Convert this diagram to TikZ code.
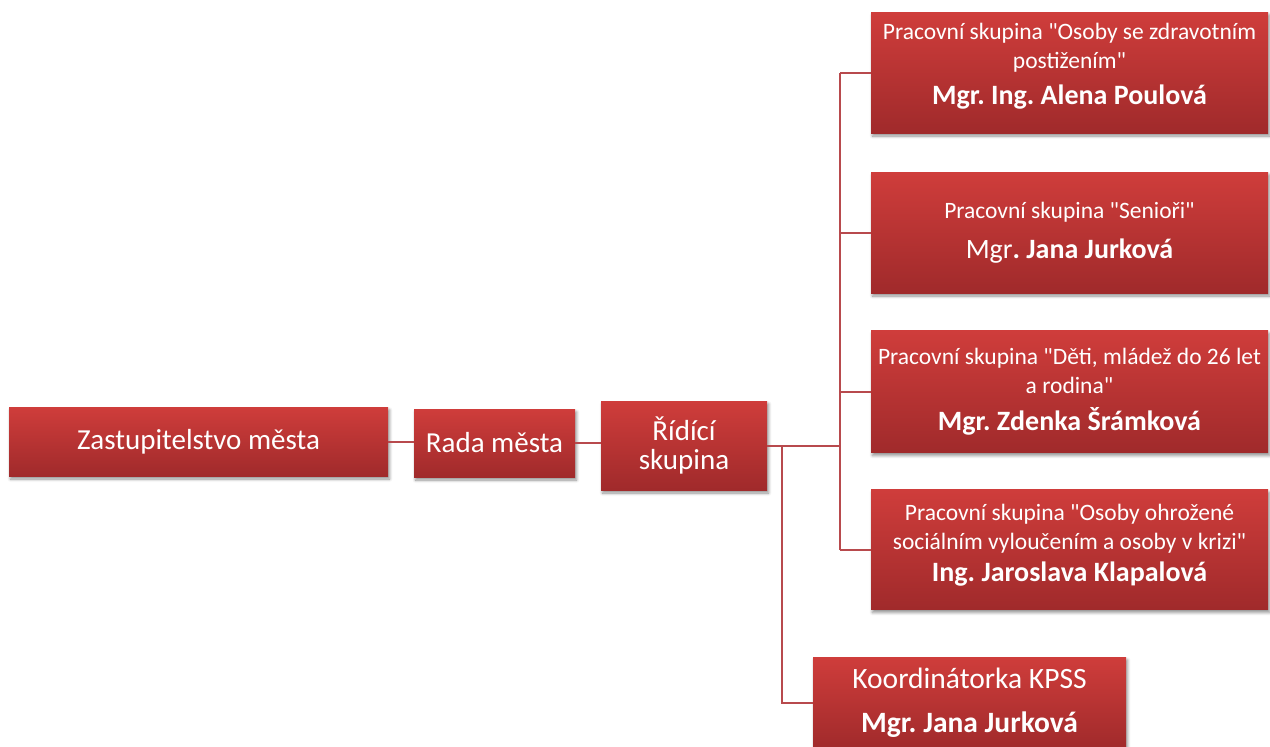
\documentclass[tikz,border=0pt]{standalone}
\usepackage{fontspec}
\setmainfont{Carlito}[Ligatures=TeXOff]
\usetikzlibrary{shadows.blur}
\frenchspacing
\definecolor{boxtop}{HTML}{CF3D3B}
\definecolor{boxbot}{HTML}{A02A2B}
\definecolor{linec}{HTML}{B84A4D}
\tikzset{
  orgbox/.style={rectangle, top color=boxtop, bottom color=boxbot, draw=none,
    text=white, align=center, inner sep=0pt,
    blur shadow={shadow xshift=1.5pt, shadow yshift=-3pt, shadow blur steps=6, shadow blur radius=3pt, shadow opacity=45}},
  bigtxt/.style={font=\fontsize{29}{29}\selectfont},
  smalltxt/.style={font=\fontsize{23.5}{29}\selectfont},
  conn/.style={draw=linec, line width=2pt},
}
\newcommand{\nm}[1]{{\fontsize{28}{30}\selectfont\bfseries #1}}
\newcommand{\qt}{\char34\relax}
\newcommand{\xdepth}[1]{\rule[-#1]{0pt}{0pt}}
\begin{document}
\begin{tikzpicture}[x=1pt,y=-1pt]
\useasboundingbox (0,0) rectangle (1270,747);
\node[orgbox, bigtxt, minimum width=379pt, minimum height=69pt] (z) at (198.5,441.5) {Zastupitelstvo města};
\node[orgbox, bigtxt, minimum width=161pt, minimum height=68pt] (rada) at (494.5,443) {Rada města};
\node[orgbox, bigtxt, minimum width=166pt, minimum height=89pt] (rid) at (684,445.5) {Řídící\\skupina};
\node[orgbox, smalltxt, minimum width=397pt, minimum height=121pt] (p1) at (1069.5,72.5)
  {Pracovní skupina \qt Osoby se zdravotním\\postižením\qt\\[7pt]\nm{Mgr. Ing. Alena Poulová\xdepth{18pt}}};
\node[orgbox, smalltxt, minimum width=397pt, minimum height=121pt] (p2) at (1069.5,232.5)
  {Pracovní skupina \qt Senioři\qt\\[11pt]{\fontsize{28}{30}\selectfont Mgr\bfseries. Jana Jurková}};
\node[orgbox, smalltxt, minimum width=397pt, minimum height=122pt] (p3) at (1069.5,391.5)
  {Pracovní skupina \qt Děti, mládež do 26 let\\a rodina\qt\\[8pt]\nm{Mgr. Zdenka Šrámková}};
\node[orgbox, smalltxt, minimum width=397pt, minimum height=120pt] (p4) at (1069.5,549.5)
  {Pracovní skupina \qt Osoby ohrožené\\sociálním vyloučením a osoby v krizi\qt\\[3pt]\nm{Ing. Jaroslava Klapalová\xdepth{14pt}}};
\node[orgbox, font=\fontsize{29.5}{44}\selectfont, minimum width=313pt, minimum height=92pt] (k) at (969.5,703)
  {Koordinátorka KPSS\\{\bfseries Mgr. Jana Jurková}};
\coordinate (j1) at (840,445.5);
\coordinate (j2) at (782,445.5);
\draw[conn] (z.east) -- (rada.west |- z.east);
\draw[conn] (rada.east) -- (rid.west |- rada.east);
\draw[conn] (rid.east) -- (j1);
\draw[conn] (j1 |- p1.west) -- (j1 |- p4.west);
\draw[conn] (j1 |- p1.west) -- (p1.west);
\draw[conn] (j1 |- p2.west) -- (p2.west);
\draw[conn] (j1 |- p3.west) -- (p3.west);
\draw[conn] (j1 |- p4.west) -- (p4.west);
\draw[conn] (j2) -- (j2 |- k.west) -- (k.west);
\end{tikzpicture}
\end{document}
